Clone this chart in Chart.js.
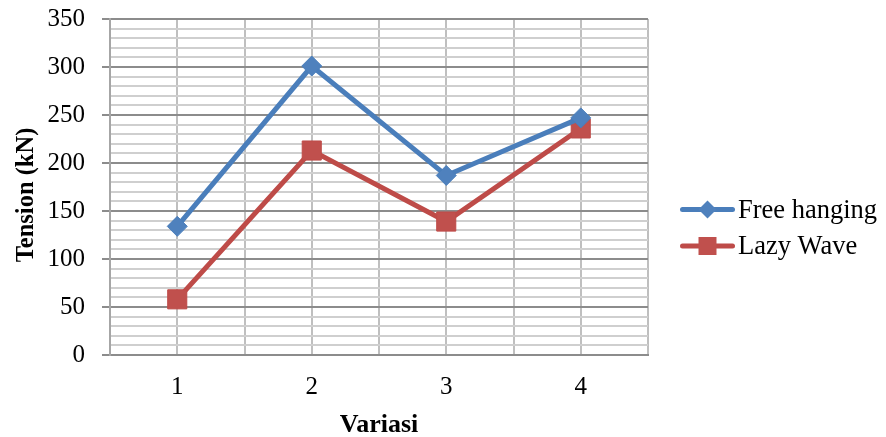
<!DOCTYPE html>
<html>
<head>
<meta charset="utf-8">
<script src="https://cdn.jsdelivr.net/npm/chart.js@4/dist/chart.umd.min.js"></script>
<style>
  html, body { margin: 0; padding: 0; background: #ffffff; }
  #wrap { width: 886px; height: 437px; }
</style>
</head>
<body>
<div id="wrap"><canvas id="chart" width="886" height="437"></canvas></div>
<script>
// Variation numbers on the x axis
const variasi = [1, 2, 3, 4];
// Tension values (kN) per configuration
const freeHanging = [134, 301, 187, 247];
const lazyWave = [58, 213, 139, 236];
// Series names
const seriesNames = ['Free hanging', 'Lazy Wave'];

const FONT = "'Liberation Serif', 'Times New Roman', serif";
const BLUE_LINE = '#4A7EBB', BLUE_FILL = '#4F81BD';
const RED_LINE = '#BE4B48', RED_FILL = '#C0504D';

// Key on the right (a short line with the series marker, then the series name)
// and the rotated y-axis caption
const sideDecor = {
  id: 'sideDecor',
  afterDraw(chart) {
    const g = chart.ctx;
    const rows = [
      { y: 209.5, line: BLUE_LINE, fill: BLUE_FILL, shape: 'diamond' },
      { y: 246, line: RED_LINE, fill: RED_FILL, shape: 'square' }
    ];
    g.save();
    rows.forEach((r, i) => {
      g.strokeStyle = r.line;
      g.lineWidth = 5;
      g.lineCap = 'round';
      g.beginPath(); g.moveTo(682.5, r.y); g.lineTo(732.5, r.y); g.stroke();
      g.fillStyle = r.fill;
      g.beginPath();
      if (r.shape === 'diamond') {
        g.moveTo(707.5, r.y - 9); g.lineTo(716.5, r.y); g.lineTo(707.5, r.y + 9); g.lineTo(698.5, r.y);
      } else {
        g.rect(698.5, r.y - 9, 18, 18);
      }
      g.closePath(); g.fill();
      g.fillStyle = '#000000';
      g.font = '26.5px ' + FONT;
      g.textBaseline = 'middle';
      g.textAlign = 'left';
      g.fillText(seriesNames[i], 738, r.y + 1.5);
    });

    g.translate(27, 195);
    g.rotate(-Math.PI / 2);
    g.fillStyle = '#000000';
    g.font = 'bold 24.5px ' + FONT;
    g.textAlign = 'center';
    g.textBaseline = 'middle';
    g.fillText('Tension (kN)', 0, 0);
    g.restore();
  }
};

const toPoints = (vals) => variasi.map((v, i) => ({ x: v, y: vals[i] }));

new Chart(document.getElementById('chart'), {
  type: 'line',
  data: {
    datasets: [
      {
        label: seriesNames[0],
        data: toPoints(freeHanging),
        borderColor: BLUE_LINE,
        backgroundColor: BLUE_FILL,
        borderWidth: 5,
        pointStyle: 'rectRot',
        pointRadius: 10,
        pointHoverRadius: 10,
        pointBorderWidth: 1,
        pointBorderColor: BLUE_LINE,
        pointBackgroundColor: BLUE_FILL,
        tension: 0
      },
      {
        label: seriesNames[1],
        data: toPoints(lazyWave),
        borderColor: RED_LINE,
        backgroundColor: RED_FILL,
        borderWidth: 5,
        pointStyle: 'rect',
        pointRadius: 13.5,
        pointHoverRadius: 13.5,
        pointBorderWidth: 1,
        pointBorderColor: RED_LINE,
        pointBackgroundColor: RED_FILL,
        tension: 0
      }
    ]
  },
  options: {
    responsive: false,
    animation: false,
    events: [],
    layout: { padding: { top: 19, right: 238, left: 0, bottom: 0 } },
    plugins: {
      tooltip: { enabled: false },
      legend: { display: false }
    },
    scales: {
      x: {
        type: 'linear',
        min: 0.5,
        max: 4.5,
        afterBuildTicks(scale) {
          const t = [];
          for (let v = 0.5; v <= 4.5; v += 0.5) t.push({ value: v });
          scale.ticks = t;
        },
        afterFit(scale) {
          scale.height = 82;
          scale.paddingLeft = 0;
          scale.paddingRight = 0;
        },
        ticks: {
          autoSkip: false,
          maxRotation: 0,
          padding: 17,
          color: '#000000',
          font: { family: FONT, size: 25 },
          callback: (v) => (Number.isInteger(v) ? String(v) : '')
        },
        grid: { color: '#bfbfbf', lineWidth: 2, drawTicks: false },
        border: { color: '#8c8c8c', width: 2 },
        title: {
          display: true,
          text: 'Variasi',
          color: '#000000',
          font: { family: FONT, size: 26, weight: 'bold' },
          padding: { top: 0, bottom: -4 }
        }
      },
      y: {
        min: 0,
        max: 350,
        afterFit(scale) {
          scale.width = 110;
          scale.paddingTop = 0;
          scale.paddingBottom = 0;
        },
        ticks: {
          stepSize: 10,
          autoSkip: false,
          padding: 17,
          color: '#000000',
          font: { family: FONT, size: 25 },
          callback: (v) => (v % 50 === 0 ? String(v) : '')
        },
        grid: {
          lineWidth: 2,
          tickLength: 8,
          color: (ctx) => (ctx.tick && ctx.tick.value % 50 === 0 ? '#8c8c8c' : '#cfcfcf'),
          tickColor: (ctx) => (ctx.tick && ctx.tick.value % 50 === 0 ? '#8c8c8c' : 'rgba(0,0,0,0)')
        },
        border: { color: '#a6a6a6', width: 2 },
        title: { display: false }
      }
    }
  },
  plugins: [sideDecor]
});
</script>
</body>
</html>
